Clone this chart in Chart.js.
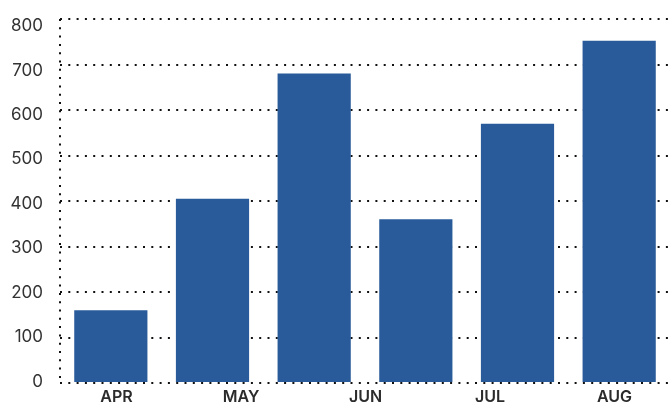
<!DOCTYPE html>
<html>
<head>
<meta charset="utf-8">
<script src="https://cdn.jsdelivr.net/npm/chart.js@4"></script>
<style>
  html, body { margin: 0; padding: 0; background: #fff; }
  #wrap { width: 670px; height: 412px; position: relative; }
</style>
</head>
<body>
<div id="wrap"><canvas id="mainChart"></canvas></div>
<script>
/* ---- DATA ---- */
const BAR_KEYS   = ['b1', 'b2', 'b3', 'b4', 'b5', 'b6'];
const BAR_VALUES = [160, 405, 680, 360, 570, 752];
const MONTHS     = ['APR', 'MAY', 'JUN', 'JUL', 'AUG'];
const Y_TICKS    = [0, 100, 200, 300, 400, 500, 600, 700, 800];

const BAR_COLOR = '#295b9a';
const DOT = { color: '#111', dash: [2, 6.3] };

new Chart(document.getElementById('mainChart'), {
  type: 'bar',
  data: {
    labels: BAR_KEYS,
    datasets: [{
      data: BAR_VALUES,
      backgroundColor: BAR_COLOR,
      borderWidth: 0,
      xAxisID: 'x',
      yAxisID: 'y'
    }]
  },
  options: {
    responsive: true,
    maintainAspectRatio: false,
    animation: false,
    layout: { padding: { top: 19, right: 0, left: 0, bottom: 0 } },
    plugins: { legend: { display: false }, tooltip: { enabled: false } },
    scales: {
      // bar axis: only its first (left edge) gridline is drawn -> dotted y axis line
      x: {
        weight: 0,
        afterFit: axis => { axis.height = 0; axis.paddingLeft = 0; axis.paddingRight = 0; },
        grid: {
          offset: true,
          drawTicks: false,
          lineWidth: 2,
          color: ctx => ctx.index === 0 ? DOT.color : 'rgba(0,0,0,0)'
        },
        border: { display: false, dash: DOT.dash },
        ticks: { display: false }
      },
      // month labels sit on their own axis, spread wider than the bars
      months: {
        type: 'linear',
        position: 'bottom',
        weight: 1,
        offset: false,
        min: -0.454,
        max: 4.446,
        afterBuildTicks: axis => { axis.ticks = MONTHS.map((_, i) => ({ value: i })); },
        afterFit: axis => { axis.height = 29; axis.paddingLeft = 0; axis.paddingRight = 0; },
        grid: { display: false, drawTicks: false, tickLength: 0 },
        border: { display: false },
        ticks: {
          color: '#2b2b2b',
          padding: 5,
          maxRotation: 0,
          autoSkip: false,
          font: { family: 'Inter', size: 16, weight: '600' },
          callback: v => MONTHS[v]
        }
      },
      // dotted gridlines
      y: {
        weight: 0,
        min: 0,
        max: 800,
        afterBuildTicks: axis => { axis.ticks = Y_TICKS.map(v => ({ value: v })); },
        afterFit: axis => { axis.width = 0; axis.paddingTop = 0; axis.paddingBottom = 0; },
        grid: { color: DOT.color, lineWidth: 2, drawTicks: false },
        border: { display: false, dash: DOT.dash },
        ticks: { display: false }
      },
      // value labels, spaced a touch tighter than the gridlines as in the source
      yLabels: {
        type: 'linear',
        position: 'left',
        weight: 1,
        min: -3.4,
        max: 815.8,
        afterBuildTicks: axis => { axis.ticks = Y_TICKS.map(v => ({ value: v })); },
        afterFit: axis => { axis.width = 60; axis.paddingTop = 0; axis.paddingBottom = 0; },
        grid: { display: false, drawTicks: false },
        border: { display: false },
        ticks: {
          color: '#333',
          padding: 17,
          font: { family: 'Inter', size: 17 },
          callback: v => Y_TICKS.includes(v) ? String(v) : null
        }
      }
    }
  }
});
</script>
</body>
</html>
